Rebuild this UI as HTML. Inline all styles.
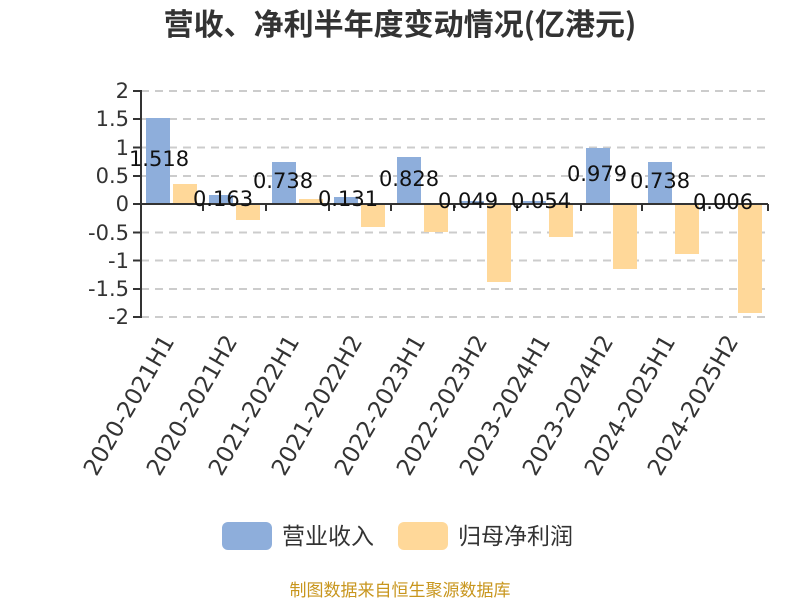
<!DOCTYPE html>
<html><head><meta charset="utf-8"><style>
html,body{margin:0;padding:0;background:#fff;}
svg{display:block;font-family:"DejaVu Sans","Noto Sans CJK SC",sans-serif;}
</style></head><body>
<svg width="800" height="600" viewBox="0 0 800 600" xmlns="http://www.w3.org/2000/svg">
<text x="400" y="35" text-anchor="middle" font-size="30" font-weight="bold" fill="#333" font-family="'Noto Sans CJK SC',sans-serif">营收、净利半年度变动情况(亿港元)</text>
<g stroke="#ccc" stroke-width="2" stroke-dasharray="8,6">
<line x1="141" x2="768" y1="91" y2="91"/>
<line x1="141" x2="768" y1="119" y2="119"/>
<line x1="141" x2="768" y1="147.5" y2="147.5"/>
<line x1="141" x2="768" y1="176" y2="176"/>
<line x1="141" x2="768" y1="232.5" y2="232.5"/>
<line x1="141" x2="768" y1="260.5" y2="260.5"/>
<line x1="141" x2="768" y1="289" y2="289"/>
<line x1="141" x2="768" y1="317" y2="317"/>
</g>
<g font-size="21" fill="#333" text-anchor="end">
<text x="129" y="98">2</text><text x="129" y="126">1.5</text><text x="129" y="155">1</text><text x="129" y="183">0.5</text><text x="129" y="211">0</text><text x="129" y="240">-0.5</text><text x="129" y="268">-1</text><text x="129" y="296">-1.5</text><text x="129" y="324">-2</text>
</g>
<g fill="#8eaedb">
<rect x="146" y="118" width="24" height="86"/>
<rect x="209" y="195" width="24" height="9"/>
<rect x="272" y="162" width="24" height="42"/>
<rect x="334" y="197" width="24" height="7"/>
<rect x="397" y="157" width="24" height="47"/>
<rect x="460" y="201" width="24" height="3"/>
<rect x="522" y="201" width="24" height="3"/>
<rect x="586" y="148" width="24" height="56"/>
<rect x="648" y="162" width="24" height="42"/>
<rect x="711" y="203" width="24" height="1"/>
</g>
<g fill="#ffd899">
<rect x="173" y="184" width="24" height="20"/>
<rect x="236" y="204" width="24" height="16"/>
<rect x="299" y="199" width="24" height="5"/>
<rect x="361" y="204" width="24" height="23"/>
<rect x="424" y="204" width="24" height="28"/>
<rect x="487" y="204" width="24" height="78"/>
<rect x="549" y="204" width="24" height="33"/>
<rect x="613" y="204" width="24" height="65"/>
<rect x="675" y="204" width="24" height="50"/>
<rect x="738" y="204" width="24" height="109"/>
</g>
<g stroke="#333" stroke-width="2">
<line x1="141" y1="90" x2="141" y2="318"/>
<line x1="141" y1="204" x2="768" y2="204"/>
<line x1="133" y1="91" x2="141" y2="91"/><line x1="133" y1="119" x2="141" y2="119"/><line x1="133" y1="147.5" x2="141" y2="147.5"/><line x1="133" y1="176" x2="141" y2="176"/><line x1="133" y1="204" x2="141" y2="204"/><line x1="133" y1="232.5" x2="141" y2="232.5"/><line x1="133" y1="260.5" x2="141" y2="260.5"/><line x1="133" y1="289" x2="141" y2="289"/><line x1="133" y1="317" x2="141" y2="317"/>
<line x1="203" y1="204" x2="203" y2="211"/><line x1="266" y1="204" x2="266" y2="211"/><line x1="329" y1="204" x2="329" y2="211"/><line x1="391" y1="204" x2="391" y2="211"/><line x1="454" y1="204" x2="454" y2="211"/><line x1="517" y1="204" x2="517" y2="211"/><line x1="581" y1="204" x2="581" y2="211"/><line x1="642" y1="204" x2="642" y2="211"/><line x1="704" y1="204" x2="704" y2="211"/><line x1="768" y1="204" x2="768" y2="211"/>
</g>
<g font-size="21" fill="#111" text-anchor="middle">
<text x="159" y="166">1.518</text>
<text x="223" y="206">0.163</text>
<text x="283" y="188">0.738</text>
<text x="348" y="206">0.131</text>
<text x="409" y="186">0.828</text>
<text x="468" y="208">0.049</text>
<text x="541" y="208">0.054</text>
<text x="597" y="181">0.979</text>
<text x="660" y="188">0.738</text>
<text x="723" y="209">0.006</text>
</g>
<g font-size="23" fill="#333" text-anchor="end">
<text transform="translate(175,341) rotate(-60)">2020-2021H1</text>
<text transform="translate(238,341) rotate(-60)">2020-2021H2</text>
<text transform="translate(300,341) rotate(-60)">2021-2022H1</text>
<text transform="translate(363,341) rotate(-60)">2021-2022H2</text>
<text transform="translate(426,341) rotate(-60)">2022-2023H1</text>
<text transform="translate(488,341) rotate(-60)">2022-2023H2</text>
<text transform="translate(551,341) rotate(-60)">2023-2024H1</text>
<text transform="translate(614,341) rotate(-60)">2023-2024H2</text>
<text transform="translate(676,341) rotate(-60)">2024-2025H1</text>
<text transform="translate(739,341) rotate(-60)">2024-2025H2</text>
</g>
<rect x="222" y="522" width="50" height="28" rx="6" fill="#8eaedb"/>
<text x="282" y="544" font-size="23" fill="#333">营业收入</text>
<rect x="398" y="522" width="50" height="28" rx="6" fill="#ffd899"/>
<text x="458" y="544" font-size="23" fill="#333">归母净利润</text>
<text x="400" y="596" text-anchor="middle" font-size="17" fill="#c8961e">制图数据来自恒生聚源数据库</text>
</svg>
</body></html>
